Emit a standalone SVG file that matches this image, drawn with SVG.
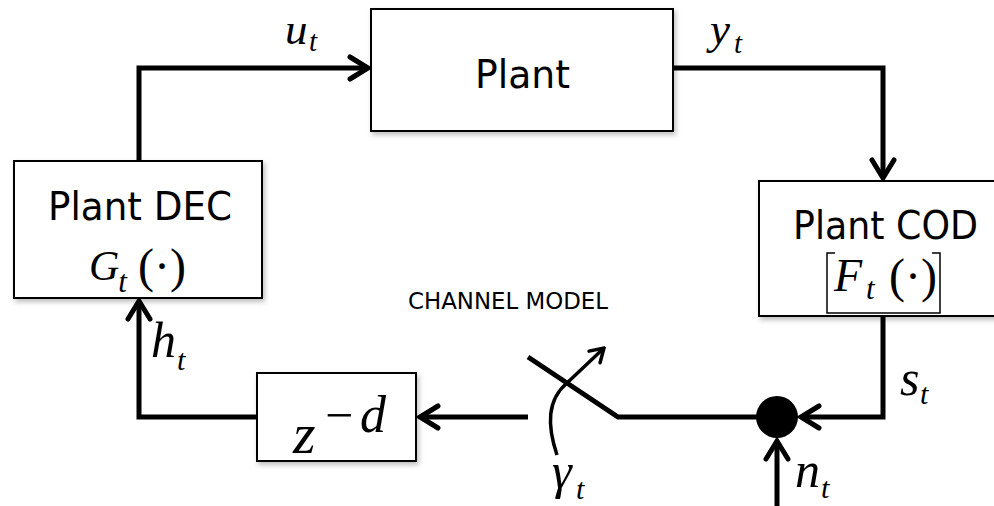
<svg xmlns="http://www.w3.org/2000/svg" width="994" height="506" viewBox="0 0 994 506">
<defs>
<filter id="sh" x="-10%" y="-10%" width="130%" height="130%">
<feDropShadow dx="2" dy="3" stdDeviation="2.5" flood-color="#000" flood-opacity="0.25"/>
</filter>
<marker id="ah" viewBox="-22 -14 26 28" refX="0" refY="0" markerWidth="26" markerHeight="28" markerUnits="userSpaceOnUse" orient="auto">
<path d="M-18,-11 L0,0 L-18,11" fill="none" stroke="#000" stroke-width="5" stroke-linejoin="miter" stroke-linecap="round"/>
</marker>
<marker id="ah2" viewBox="-16 -10 18 20" refX="0" refY="0" markerWidth="18" markerHeight="20" markerUnits="userSpaceOnUse" orient="auto">
<path d="M-13,-8 L0,0 L-13,8" fill="none" stroke="#000" stroke-width="3.5" stroke-linejoin="miter" stroke-linecap="round"/>
</marker>
</defs>
<style>
.box{fill:#fff;stroke:#000;stroke-width:2;filter:url(#sh)}
.lbl{font-family:"DejaVu Sans","Verdana",sans-serif;fill:#000}
.m{font-family:"Liberation Serif","Times New Roman",serif;font-style:italic;fill:#000}
.u{font-family:"Liberation Serif","Times New Roman",serif;fill:#000}
.c{fill:none;stroke:#000;stroke-width:5;stroke-linejoin:miter}
</style>
<rect width="994" height="506" fill="#fff"/>

<g id="connectors">
<path class="c" d="M139,161 V68 H368" marker-end="url(#ah)"/>
<path class="c" d="M673,68 H883 V178" marker-end="url(#ah)"/>
<path class="c" d="M883,316 V417 H801" marker-end="url(#ah)"/>
<path class="c" d="M777,506 V441" marker-end="url(#ah)"/>
<path class="c" d="M757,417 H618 L528,357" stroke-width="4.5"/>
<path class="c" d="M528,417 H420" marker-end="url(#ah)"/>
<path class="c" d="M257,417 H139 V301" marker-end="url(#ah)"/>
<path d="M557,455 C547,425 547,400 567,383 L604,348" fill="none" stroke="#000" stroke-width="3.5" marker-end="url(#ah2)"/>
</g>

<g id="sum">
<circle cx="777" cy="417" r="21" fill="#000"/>
</g>

<g id="plant">
<rect class="box" x="371" y="9" width="302" height="122"/>
<text class="lbl" x="475" y="88" font-size="39" textLength="95" lengthAdjust="spacingAndGlyphs">Plant</text>
</g>

<g id="plant-dec">
<rect class="box" x="14" y="161" width="248" height="137"/>
<text class="lbl" x="48" y="220" font-size="39" textLength="184" lengthAdjust="spacingAndGlyphs">Plant DEC</text>
<text class="m" x="89" y="280" font-size="42">G<tspan font-size="31" dy="12" dx="-1">t</tspan></text>
<text class="u" x="138" y="282" font-size="48">(·)</text>
</g>

<g id="plant-cod">
<rect class="box" x="759" y="181" width="250" height="135"/>
<text class="lbl" x="793" y="239" font-size="39" textLength="185" lengthAdjust="spacingAndGlyphs">Plant COD</text>
<path d="M835,253 H827 V313 H940 V253 H932" fill="none" stroke="#000" stroke-width="1.5"/>
<text class="m" x="834" y="291" font-size="46">F</text>
<text class="m" x="866" y="299" font-size="31">t</text>
<text class="u" x="889" y="292" font-size="48">(·)</text>
</g>

<g id="delay">
<rect class="box" x="257" y="373" width="159" height="88"/>
<text class="m" x="293" y="453" font-size="58">z</text>
<text class="u" x="325" y="432" font-size="50">−</text>
<text class="m" x="360" y="432" font-size="52">d</text>
</g>

<g id="labels">
<text class="lbl" x="408" y="309" font-size="23" textLength="200" lengthAdjust="spacingAndGlyphs">CHANNEL MODEL</text>
<text class="m" x="285" y="44" font-size="45">u</text>
<text class="m" x="309" y="51" font-size="29">t</text>
<text class="m" x="710" y="44" font-size="45">y</text>
<text class="m" x="734" y="53" font-size="29">t</text>
<text class="m" x="151" y="357" font-size="50">h</text>
<text class="m" x="177" y="370" font-size="30">t</text>
<text class="m" x="900" y="395" font-size="50">s</text>
<text class="m" x="920" y="404" font-size="30">t</text>
<text class="m" x="552" y="488" font-size="50">γ</text>
<text class="m" x="576" y="499" font-size="30">t</text>
<text class="m" x="795" y="487" font-size="50">n</text>
<text class="m" x="821" y="498" font-size="30">t</text>
</g>
</svg>
